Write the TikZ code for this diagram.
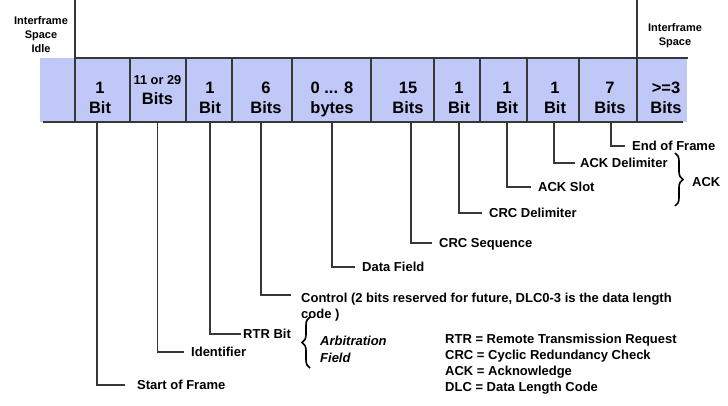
\documentclass[tikz,border=0pt]{standalone}
\usepackage{fontspec}
\setmainfont{Liberation Sans}
\usetikzlibrary{decorations.pathreplacing,calc}
\definecolor{cellblue}{RGB}{192,200,248}
\definecolor{linegray}{RGB}{55,55,55}
\begin{document}
\begin{tikzpicture}[x=1pt,y=-1pt,
  cell/.style={inner sep=0pt, align=center, font=\fontsize{16.5}{20}\selectfont\bfseries},
  lbl/.style={anchor=west, inner sep=0pt, text height=9.3pt, text depth=0pt, font=\fontsize{13}{16}\selectfont\bfseries},
  mlbl/.style={anchor=north west, inner sep=0pt, align=left, font=\fontsize{13}{16}\selectfont\bfseries},
  hdr/.style={anchor=north, inner sep=0pt, align=center, font=\fontsize{11}{14}\selectfont\bfseries},
  leader/.style={draw=linegray, line width=1.2pt, shorten >=7pt},
  barline/.style={draw=linegray, line width=1.3pt},
  bracedeco/.style={draw=black, line width=1.6pt, decorate, decoration={brace, amplitude=8pt}}
]
\useasboundingbox (0,0) rectangle (728,405);

% bar
\node[fill=cellblue, inner sep=0pt, minimum width=647pt, minimum height=64pt] (bar) at (363.5,90) {};
\draw[barline] (75,0) -- (75,122);
\draw[barline] (637,0) -- (637,122);
\draw[barline] (75,58) -- (688,58);
\draw[barline] (43,122) -- (683,122);
\foreach \x in {130,186,232,292,371,434,480,527,579}
  \draw[barline] (\x,58) -- (\x,122);

% headers
\node[hdr] (h1) at (41,16) {Interframe\\Space\\Idle};
\node[hdr] (h2) at (675,23.5) {Interframe\\Space};

% cells
\node[cell] (c1) at (100,98) {1\\Bit};
\node[cell] (c2) at (157.5,90.2) {{\fontsize{12.8}{15}\selectfont\bfseries 11 or 29}\\Bits};
\node[cell] (c3) at (210,98) {1\\Bit};
\node[cell] (c4) at (266,98) {6\\Bits};
\node[cell] (c5) at (332,99.7) {0 ... 8\\bytes};
\node[cell] (c6) at (408,98) {15\\Bits};
\node[cell] (c7) at (459,98) {1\\Bit};
\node[cell] (c8) at (507,98) {1\\Bit};
\node[cell] (c9) at (555,98) {1\\Bit};
\node[cell] (c10) at (610,98) {7\\Bits};
\node[cell] (c11) at (666,98) {>=3\\Bits};

% labels
\node[lbl] (l1) at (137,385) {Start of Frame};
\node[lbl] (l2) at (191,352) {Identifier};
\node[lbl] (l3) at (243,334) {RTR Bit};
\node[mlbl] (l4) at (301,293) {Control (2 bits reserved for future, DLC0-3 is the data length\\code )};
\node[lbl] (l5) at (362,267) {Data Field};
\node[lbl] (l6) at (439,243) {CRC Sequence};
\node[lbl] (l7) at (489,213) {CRC Delimiter};
\node[lbl] (l8) at (538,187) {ACK Slot};
\node[lbl] (l9) at (580,163) {ACK Delimiter};
\node[lbl] (l10) at (632,146) {End of Frame};

% leaders
\draw[leader, shorten >=12pt] ([xshift=-3pt]c1.center |- bar.south) |- (l1.west);
\draw[leader] (c2.center |- bar.south) |- (l2.west);
\draw[leader, shorten >=2pt] (c3.center |- bar.south) |- (l3.west);
\draw[leader, shorten >=10pt] ([xshift=-5pt]c4.center |- bar.south) |- ([yshift=-2pt]l4.north west);
\draw[leader] (c5.center |- bar.south) |- (l5.west);
\draw[leader] ([xshift=3pt]c6.center |- bar.south) |- (l6.west);
\draw[leader] (c7.center |- bar.south) |- (l7.west);
\draw[leader] (c8.center |- bar.south) |- (l8.west);
\draw[leader, shorten >=5pt] ([xshift=-1pt]c9.center |- bar.south) |- (l9.west);
\draw[leader] ([xshift=1pt]c10.center |- bar.south) |- (l10.west);

% braces
\draw[bracedeco] (675,153) -- (675,206);
\node[lbl] (ack) at (692,182) {ACK};
\draw[bracedeco] (310,368) -- (310,317);
\node[mlbl, font=\fontsize{13}{17}\selectfont\bfseries\itshape] (arb) at (320,335.5) {Arbitration\\Field};

% legend
\node[mlbl] (leg) at (445,333.5) {RTR = Remote Transmission Request\\CRC = Cyclic Redundancy Check\\ACK = Acknowledge\\DLC = Data Length Code};
\end{tikzpicture}
\end{document}
